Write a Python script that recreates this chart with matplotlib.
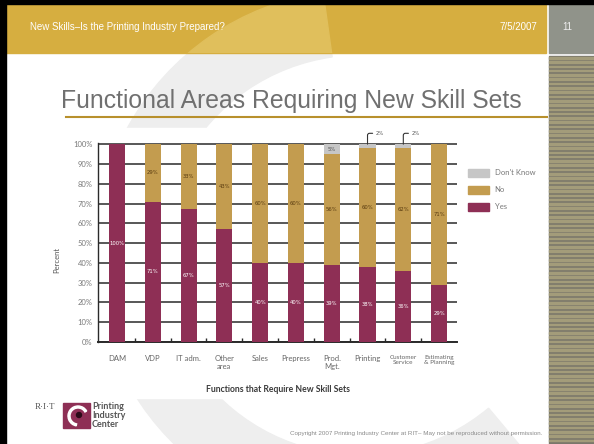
import numpy as np
import matplotlib.pyplot as plt
from matplotlib.patches import Rectangle, Wedge, Circle

# data
categories = ['DAM', 'VDP', 'IT adm.', 'Other\narea', 'Sales', 'Prepress',
              'Prod.\nMgt.', 'Printing', 'Customer\nService', 'Estimating\n& Planning']
yes_vals = [100, 71, 67, 57, 40, 40, 39, 38, 36, 29]
no_vals = [0, 29, 33, 43, 60, 60, 56, 60, 62, 71]
dk_vals = [0, 0, 0, 0, 0, 0, 5, 2, 2, 0]
series_names = ["Don't Know", 'No', 'Yes']
y_ticks = list(range(0, 101, 10))

maroon = '#8e2f55'
gold = '#c39c4f'
grey = '#c6c6c6'

W, H = 594, 444
fig = plt.figure(figsize=(W / 100, H / 100), dpi=100)

# slide background in pixel coordinates
bg = fig.add_axes([0, 0, 1, 1])
bg.set_xlim(0, W)
bg.set_ylim(H, 0)
bg.axis('off')

# watermark swoosh
bg.add_patch(Wedge((360, 255), 265, 50, 262, width=65, color='#eeeeee', zorder=1))
banner = Rectangle((0, 4), 546, 49, color='#d6ae40', zorder=2)
bg.add_patch(banner)
wm = Wedge((360, 255), 265, 50, 262, width=65, color='#e0bf5c', zorder=3)
bg.add_patch(wm)
wm.set_clip_path(banner)

bg.add_patch(Rectangle((549, 4), 45, 49, color='#90938a', zorder=2))
bg.add_patch(Rectangle((549, 56), 45, H - 56, color='#7a776b', zorder=2))
for yy in np.arange(57, H, 4.3):
    bg.add_patch(Rectangle((549, yy), 45, 1.6, color='#a39c7a', zorder=3))
bg.add_patch(Rectangle((0, 0), W, 4, color='black', zorder=6))
bg.add_patch(Rectangle((0, 0), 6, H, color='black', zorder=6))

# white picture area behind chart
bg.add_patch(Rectangle((45, 128), 500, 270, color='white', zorder=4))

bg.text(30, 27, 'New Skills\u2013Is the Printing Industry Prepared?', color='white',
        fontsize=7, va='center', family='Liberation Sans', zorder=7)
bg.text(537, 27, '7/5/2007', color='white', fontsize=7, va='center', ha='right',
        family='Liberation Sans', zorder=7)
bg.text(567, 27, '11', color='#eeeeee', fontsize=7, va='center', ha='center',
        family='Liberation Sans', zorder=7)

bg.text(291, 101, 'Functional Areas Requiring New Skill Sets', ha='center', va='center',
        fontsize=17.8, color='#707070', family='Liberation Sans', zorder=7)
bg.plot([66, 547], [117, 117], color='#b8902c', lw=1.5, zorder=7)

# logo + footer
bg.text(35, 407, 'R\u00b7I\u00b7T', family='Liberation Serif', fontsize=6.5,
        color='#555555', va='center', zorder=7)
bg.add_patch(Rectangle((63, 403), 27, 25, color=maroon, zorder=7))
bg.add_patch(Wedge((78, 416), 10, 100, 330, width=2, color='white', zorder=8))
bg.add_patch(Circle((79, 415), 2.5, color='#2a0a18', zorder=8))
bg.text(92, 402, 'Printing\nIndustry\nCenter', fontsize=6.5, fontweight='bold',
        color='#555555', va='top', linespacing=1.0, family='Lato', zorder=7)
bg.text(542, 433, 'Copyright 2007 Printing Industry Center at RIT\u2013 May not be reproduced without permission.',
        ha='right', va='center', fontsize=4.5, color='#8a8a8a', family='Liberation Sans', zorder=7)

# chart
ax = fig.add_axes([98 / W, 1 - 342 / H, (457 - 98) / W, (342 - 143) / H])
ax.set_facecolor('white')
x = np.arange(len(categories))
yes = np.array(yes_vals)
no = np.array(no_vals)
dk = np.array(dk_vals)
bw = 0.45
ax.bar(x, yes, bw, color=maroon, zorder=3)
ax.bar(x, no, bw, bottom=yes, color=gold, zorder=3)
ax.bar(x, dk, bw, bottom=yes + no, color=grey, zorder=3)

ax.set_xlim(-0.53, 9.5)
ax.set_ylim(0, 100.6)
ax.set_yticks(y_ticks)
ax.set_yticklabels([f'{v}%' for v in y_ticks])
ax.grid(axis='y', color='#2a2a2a', lw=1.1)
ax.set_axisbelow(True)
for s in ['top', 'right']:
    ax.spines[s].set_visible(False)
ax.spines['left'].set_color('#2a2a2a')
ax.spines['left'].set_linewidth(1.0)
ax.spines['bottom'].set_color('#2a2a2a')
ax.spines['bottom'].set_linewidth(1.4)
ax.tick_params(axis='y', length=0, pad=4, labelsize=5.5, labelcolor='#7a7a7a')

ax.set_xticks(x)
ax.set_xticklabels(categories)
ax.tick_params(axis='x', which='major', length=0, pad=9, labelsize=5.5, labelcolor='#666666')
for lab in ax.get_xticklabels()[-2:]:
    lab.set_fontsize(4.6)
ax.set_xticks(x[:-1] + 0.5, minor=True)
ax.tick_params(axis='x', which='minor', direction='in', length=3, width=1, color='#2a2a2a')
for lab in ax.get_xticklabels() + ax.get_yticklabels():
    lab.set_family('Lato')

ax.set_xlabel('Functions that Require New Skill Sets', fontsize=6.2, color='#3a3a3a',
              fontweight='bold', family='Lato')
ax.xaxis.set_label_coords(0.5, -0.215)
ax.set_ylabel('Percent', fontsize=5.5, color='#555555', family='Lato')
ax.yaxis.set_label_coords(-0.105, 0.41)

# value labels
for i in range(len(categories)):
    ax.text(i, yes[i] / 2, f'{yes[i]}%', ha='center', va='center', fontsize=3.8,
            color='white', zorder=5)
    if no[i] > 0:
        ax.text(i, yes[i] + no[i] / 2, f'{no[i]}%', ha='center', va='center',
                fontsize=3.8, color='#5a3c10', zorder=5)
    if dk[i] >= 4:
        ax.text(i, yes[i] + no[i] + dk[i] / 2, f'{dk[i]}%', ha='center', va='center',
                fontsize=3.8, color='#555555', zorder=5)
    elif dk[i] > 0:
        ax.annotate(f'{dk[i]}%', xy=(i, yes[i] + no[i] + dk[i]), xytext=(i + 0.22, 105.5),
                    textcoords='data', ha='left', va='center', fontsize=3.8, color='#555555',
                    annotation_clip=False,
                    arrowprops=dict(arrowstyle='-', color='#333333', lw=0.8, shrinkA=0, shrinkB=0,
                                    connectionstyle='angle,angleA=0,angleB=90,rad=2'))

handles = [Rectangle((0, 0), 1, 1, color=c) for c in [grey, gold, maroon]]
fig.legend(handles, series_names, loc='upper left', bbox_to_anchor=(461 / W, 1 - 162 / H),
           frameon=False, handlelength=2.8, handleheight=1.2,
           labelspacing=1.2, handletextpad=0.7, labelcolor='#777777', prop={'family': 'Lato', 'size': 5.5})

fig.savefig('out.png', dpi=100)
